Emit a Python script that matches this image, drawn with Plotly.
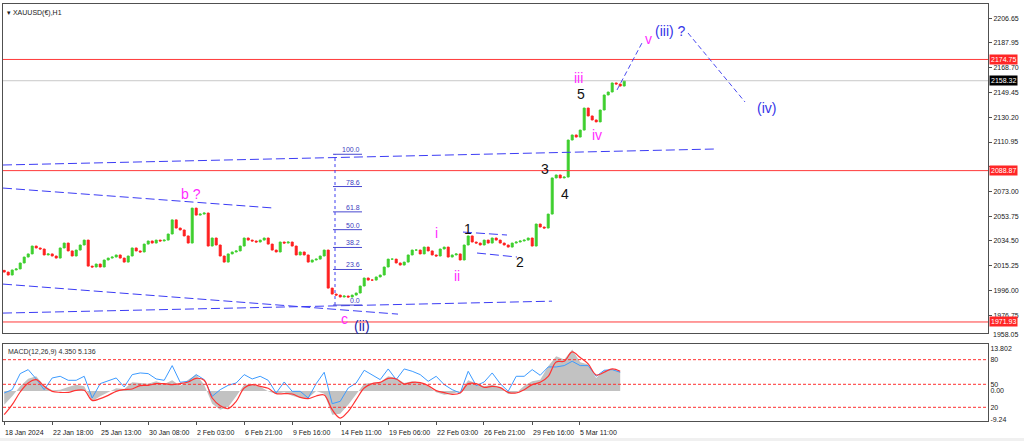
import plotly.graph_objects as go

# ---------------- data ----------------
closes = [2010.5, 2008.2, 2012.1, 2012.9, 2017.5, 2022.1, 2024.5, 2030.6, 2029.1, 2028.3,
          2023.7, 2024.5, 2022.9, 2021.3, 2029.1, 2032.9, 2026.8, 2022.9, 2027.5, 2031.4,
          2035.2, 2015.1, 2014.4, 2016.7, 2014.4, 2019.8, 2021.3, 2022.1, 2023.7, 2021.3,
          2018.2, 2022.9, 2029.1, 2026.8, 2026.0, 2032.1, 2034.5, 2032.9, 2035.2, 2034.5,
          2035.2, 2039.9, 2050.8, 2044.5, 2043.0, 2038.4, 2032.9, 2059.9, 2054.5, 2055.3,
          2056.1, 2030.6, 2036.8, 2031.4, 2022.9, 2018.2, 2024.5, 2026.0, 2026.8, 2030.6,
          2036.8, 2035.2, 2034.5, 2033.7, 2035.2, 2036.8, 2032.1, 2027.5, 2026.0, 2033.7,
          2032.9, 2033.7, 2030.6, 2023.7, 2026.0, 2023.7, 2018.2, 2019.8, 2020.5, 2022.9,
          2027.5, 1998.1, 1993.5, 1992.7, 1991.2, 1992.0, 1991.2, 1992.7, 1994.3, 1999.7,
          2005.9, 2004.3, 2004.3, 2006.7, 2008.2, 2014.4, 2020.5, 2020.5, 2017.5, 2015.9,
          2018.2, 2023.7, 2027.5, 2027.5, 2024.5, 2029.8, 2026.8, 2023.7, 2022.9, 2028.3,
          2029.8, 2022.1, 2023.7, 2024.5, 2019.8, 2031.4, 2038.4, 2033.7, 2032.9, 2031.4,
          2035.2, 2032.9, 2036.8, 2035.2, 2032.9, 2031.4, 2029.8, 2032.9, 2033.7, 2034.5,
          2035.2, 2036.8, 2030.6, 2047.6, 2045.3, 2044.5, 2055.3, 2083.2, 2085.5, 2083.2,
          2083.9, 2112.5, 2116.4, 2114.8, 2120.2, 2137.2, 2131.1, 2128.0, 2126.5, 2135.7,
          2147.3, 2149.6, 2156.6, 2155.8, 2154.2, 2158.32]
first_open = 2011.8

macd_main = [-4.1, -1.6, 1.4, 3.7, 4.4, 1.6, 0.2, 0.4, 1.2, 1.9,
             1.4, -3.1, -1.6, -0.4, 0.8, 0.6, 2.6, 2.4, 2.2, 2.9,
             2.1, 3.2, 1.6, 3.4, 4.9, 1.9, -3.8, -5.6, -4.8, -1.6,
             1.9, 2.0, 1.3, -0.1, -0.9, -0.4, -1.4, -2.1, -2.1, 0.0,
             -0.8, -7.1, -6.8, -4.1, -0.8, 2.2, 2.4, 2.6, 4.4, 3.9,
             2.4, 2.9, 2.5, 1.4, -0.4, -1.1, -0.8, -0.1, 3.2, 2.4,
             1.4, 1.9, 1.2, -0.9, -0.6, 1.6, 2.9, 3.4, 7.4, 10.4,
             9.4, 12.4, 8.6, 7.9, 3.9, 6.2, 6.4, 5.9]
macd_signal = [-7.1, -4.1, -0.3, 2.4, 3.4, 1.4, -0.1, -0.4, -0.4, 0.2,
               0.2, -2.8, -2.3, -1.3, -0.1, 0.4, 0.6, 1.6, 1.7, 2.2,
               2.2, 1.9, 2.2, 2.7, 3.8, 3.2, -2.1, -4.4, -5.3, -3.1,
               0.9, 1.9, 1.4, 0.8, -0.8, -0.8, -0.9, -1.9, -2.3, -1.5,
               -1.2, -5.6, -8.1, -6.1, -2.6, 0.9, 2.2, 2.6, 3.8, 3.6,
               2.1, 2.6, 2.5, 1.6, 0.1, -0.5, -1.0, -0.6, 2.2, 2.2,
               1.1, 1.4, 1.0, -0.4, -0.6, 0.4, 1.9, 2.6, 4.4, 8.7,
               8.9, 11.7, 10.0, 8.1, 4.8, 5.6, 6.6, 5.9]
blue_line = [-0.6, 0.4, 5.2, 6.4, 3.6, 0.4, 3.9, 4.4, 3.2, 3.2,
             4.4, -2.1, 2.2, 3.1, 3.9, 1.2, 4.9, 5.4, 5.2, 3.6,
             3.2, 7.6, 2.6, 2.9, 4.9, 3.4, -1.6, 0.4, 1.7, 2.4,
             4.9, 3.6, 4.4, 3.2, -0.6, 2.7, -0.1, -0.1, -2.1, 2.2,
             5.6, -3.8, -3.1, 0.9, 2.4, 6.2, 4.9, 3.4, 6.6, 3.4,
             6.6, 5.9, 4.9, 2.9, 4.4, 1.9, 0.4, -0.6, 5.9, 1.6,
             2.7, 5.4, 2.2, -0.1, 4.4, 4.4, 6.4, 4.7, 7.2, 7.2,
             7.6, 8.9, 7.6, 7.6, 4.4, 6.2, 6.4, 5.6]
macd_step = 2  # one MACD reading per two bars

x_tick_pos = [0, 12, 24, 36, 48, 60, 72, 84, 96, 108, 119.7, 132, 143.7]
x_tick_text = ["18 Jan 2024", "22 Jan 18:00", "25 Jan 13:00", "30 Jan 08:00", "2 Feb 03:00",
               "6 Feb 21:00", "9 Feb 16:00", "14 Feb 11:00", "19 Feb 06:00", "22 Feb 03:00",
               "26 Feb 21:00", "29 Feb 16:00", "5 Mar 11:00"]

price_ticks = [2206.65, 2187.95, 2168.70, 2149.45, 2130.20, 2110.95, 2091.70,
               2073.00, 2053.75, 2034.50, 2015.25, 1996.00, 1976.75]
hidden_ticks = [2091.70]   # covered by the 2088.87 level box
price_bottom_label = 1958.05
red_levels = [2174.75, 2088.87, 1971.93]
last_price = 2158.32

macd_tick_vals = [12.6, 9.37, 2.0, 0.0, -4.88, -8.4]
macd_tick_text = ["13.802", "80", "50", "0.00", "20", "-9.24"]
macd_levels = [9.37, 2.0, -4.88]

fib_high = 2101.5
fib_low = 1985.0
fib_levels = [0.0, 23.6, 38.2, 50.0, 61.8, 78.6, 100.0]
fib_x = [82.2, 89.45]
fib_vx = 82.7

# trend lines: (x0, y0, x1, y1) in bar index / price
channel_lines = [(-0.3, 2075.4, 67.2, 2060.0),
                 (-0.3, 2001.2, 98.45, 1978.0),
                 (-0.3, 1978.8, 136.95, 1988.0),
                 (-0.3, 2093.2, 178.2, 2105.6),
                 (114.7, 2041.4, 125.7, 2039.1),
                 (118.2, 2025.2, 128.2, 2022.1)]
projection_lines = [(153.2, 2151.2, 159.45, 2187.5),
                    (170.95, 2195.2, 185.2, 2141.9)]

# wave labels: (text, x, y, colour)
MAG = "#ff2cff"
wave_labels = [("b ?", 46.7, 2070.8, MAG), ("c", 85.0, 1974.2, MAG),
               ("(ii)", 89.45, 1968.8, "#1c1ca8"), ("i", 107.95, 2040.7, MAG),
               ("ii", 113.2, 2007.4, MAG), ("1", 116.0, 2043.7, "#111111"),
               ("2", 129.0, 2018.3, "#111111"), ("3", 135.2, 2090.1, "#111111"),
               ("4", 140.2, 2070.8, "#111111"), ("5", 144.2, 2148.1, "#111111"),
               ("iii", 143.45, 2160.5, MAG), ("iv", 148.2, 2116.4, MAG),
               ("v", 161.0, 2190.6, MAG), ("(iii) ?", 166.45, 2196.8, "#3535e8"),
               ("(iv)", 190.45, 2137.2, "#3535e8")]

# ---------------- figure ----------------
idx = list(range(len(closes)))
opens = [first_open] + closes[:-1]
highs = [max(o, c) for o, c in zip(opens, closes)]
lows = [min(o, c) for o, c in zip(opens, closes)]
macd_x = [i * macd_step for i in range(len(macd_main))]

UP = "#3fcf2f"
DN = "#ff2020"
FONT = "Liberation Sans"

fig = go.Figure()
fig.add_trace(go.Candlestick(
    x=idx, open=opens, high=highs, low=lows, close=closes,
    increasing=dict(line=dict(color=UP, width=1), fillcolor=UP),
    decreasing=dict(line=dict(color=DN, width=1), fillcolor=DN),
    whiskerwidth=0, xaxis="x", yaxis="y", showlegend=False, hoverinfo="skip"))

fig.add_trace(go.Scatter(x=macd_x, y=macd_main, mode="lines", fill="tozeroy",
                         fillcolor="#c2c2c2", line=dict(width=0, color="#c2c2c2"),
                         xaxis="x2", yaxis="y2", showlegend=False, hoverinfo="skip"))
fig.add_trace(go.Scatter(x=macd_x, y=blue_line, mode="lines",
                         line=dict(width=1, color="#3d9bff"),
                         xaxis="x2", yaxis="y2", showlegend=False, hoverinfo="skip"))
fig.add_trace(go.Scatter(x=macd_x, y=macd_signal, mode="lines",
                         line=dict(width=1.2, color="#ff3434", shape="spline"),
                         xaxis="x2", yaxis="y2", showlegend=False, hoverinfo="skip"))

shapes = []
for lv in red_levels:
    shapes.append(dict(type="line", xref="paper", x0=0, x1=1, yref="y", y0=lv, y1=lv,
                       line=dict(color="#ff3a3a", width=1)))
shapes.append(dict(type="line", xref="paper", x0=0, x1=1, yref="y", y0=last_price, y1=last_price,
                   line=dict(color="#c8c8c8", width=1)))
for (x0, y0, x1, y1) in channel_lines:
    shapes.append(dict(type="line", xref="x", yref="y", x0=x0, y0=y0, x1=x1, y1=y1,
                       line=dict(color="#3c3cf5", width=1, dash="9px,4px")))
for (x0, y0, x1, y1) in projection_lines:
    shapes.append(dict(type="line", xref="x", yref="y", x0=x0, y0=y0, x1=x1, y1=y1,
                       line=dict(color="#4a4af0", width=1, dash="5px,3px")))
fib_prices = [fib_low + (fib_high - fib_low) * lv / 100 for lv in fib_levels]
for p in fib_prices:
    shapes.append(dict(type="line", xref="x", yref="y", x0=fib_x[0], x1=fib_x[1], y0=p, y1=p,
                       line=dict(color="#4848d0", width=1)))
shapes.append(dict(type="line", xref="x", yref="y", x0=fib_vx, x1=fib_vx,
                   y0=fib_prices[0], y1=fib_prices[-1],
                   line=dict(color="#3c3cf0", width=1, dash="dot")))
for lv in macd_levels:
    shapes.append(dict(type="line", xref="paper", x0=0, x1=1, yref="y2", y0=lv, y1=lv,
                       line=dict(color="#ff3030", width=1, dash="3px,2px")))
# bottom light strip
shapes.append(dict(type="rect", xref="paper", yref="paper", x0=-0.01, x1=1.05,
                   y0=-0.06, y1=-0.041, fillcolor="#f0f0f0", line=dict(width=0), layer="below"))

annotations = []
for lv, p in zip(fib_levels, fib_prices):
    annotations.append(dict(x=fib_x[1], y=p, xref="x", yref="y", text=f"{lv:.1f}",
                            showarrow=False, xanchor="right", yanchor="bottom",
                            font=dict(family=FONT, size=7, color="#4040c0"), yshift=-1))
for (t, x, y, c) in wave_labels:
    annotations.append(dict(x=x, y=y, xref="x", yref="y", text=t, showarrow=False,
                            font=dict(family=FONT, size=14, color=c)))
for lv, bg in zip(red_levels + [last_price], ["#ff2626"] * 3 + ["#000000"]):
    annotations.append(dict(x=1, y=lv, xref="paper", yref="y", text=f"{lv:.2f}",
                            showarrow=False, xanchor="left", xshift=1, bgcolor=bg,
                            borderpad=1, font=dict(family=FONT, size=7, color="#ffffff")))
annotations.append(dict(x=1, y=0.194, xref="paper", yref="paper", text=f"{price_bottom_label:.2f}",
                        showarrow=False, xanchor="left", xshift=3,
                        font=dict(family=FONT, size=7, color="#202020")))
for pos, t in zip(x_tick_pos, x_tick_text):
    annotations.append(dict(x=pos, y=-0.027, xref="x2", yref="paper", text=t, showarrow=False,
                            xanchor="left", yanchor="middle", xshift=-1,
                            font=dict(family=FONT, size=7, color="#202020")))
annotations.append(dict(x=0, y=1, xref="paper", yref="paper", text="▾ XAUUSD(€),H1",
                        showarrow=False, xanchor="left", yanchor="top", xshift=2, yshift=-3,
                        font=dict(family=FONT, size=7, color="#202020")))
annotations.append(dict(x=0, y=0.1847, xref="paper", yref="paper",
                        text="MACD(12,26,9) 4.350 5.136", showarrow=False,
                        xanchor="left", yanchor="top", xshift=3, yshift=-2,
                        font=dict(family=FONT, size=7, color="#303030")))

XR = [-0.3, 245.95]
axis_line = dict(showline=True, mirror=True, linecolor="#505050", linewidth=1,
                 showgrid=False, zeroline=False)
fig.update_layout(
    width=1024, height=441,
    margin=dict(l=3, r=36, t=4, b=20),
    paper_bgcolor="white", plot_bgcolor="white",
    font=dict(family=FONT, size=7, color="#202020"),
    showlegend=False,
    xaxis=dict(domain=[0, 1], anchor="y", range=XR, showticklabels=False, ticks="",
               rangeslider=dict(visible=False), **axis_line),
    yaxis=dict(domain=[0.211, 1], anchor="x", range=[1963.4, 2217.6], side="right",
               tickvals=price_ticks,
               ticktext=["" if v in hidden_ticks else f"{v:.2f}" for v in price_ticks],
               ticks="outside", ticklen=3, tickcolor="#505050",
               tickfont=dict(family=FONT, size=7, color="#202020"), **axis_line),
    xaxis2=dict(domain=[0, 1], anchor="y2", range=XR, tickvals=x_tick_pos,
                showticklabels=False, ticks="outside", ticklen=3, tickcolor="#505050",
                **axis_line),
    yaxis2=dict(domain=[0, 0.1847], anchor="x2", range=[-8.98, 14.07], side="right",
                tickvals=macd_tick_vals, ticktext=macd_tick_text,
                ticks="", tickfont=dict(family=FONT, size=7, color="#202020"), **axis_line),
    shapes=shapes, annotations=annotations,
)

fig.write_html("out.html", config={"displayModeBar": False},
               post_script="document.body.style.margin='0';document.body.style.overflow='hidden';")
